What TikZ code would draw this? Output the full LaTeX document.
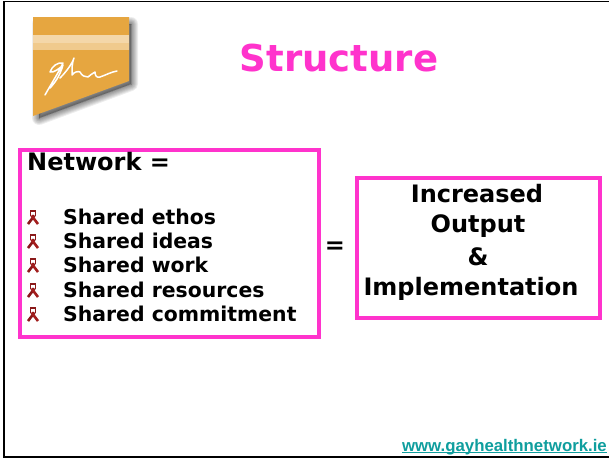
\documentclass[tikz,border=0pt]{standalone}
\usepackage{fontspec}
\setmainfont{DejaVu Sans}
\newfontfamily\urlfont{Liberation Sans}
\begin{document}
\begin{tikzpicture}[x=1pt,y=-1pt,
    boxpink/.style={draw=pink2,line width=3.4pt},
    itemtext/.style={anchor=west,font=\bfseries\fontsize{20.4}{22}\selectfont,inner sep=0pt},
    bigtext/.style={font=\bfseries\fontsize{24}{26}\selectfont,inner sep=0pt}]
    %colores
    \definecolor{pink2}{HTML}{FF33CC}
    \definecolor{gold}{HTML}{E6A640}
    \definecolor{teal2}{HTML}{0F9E9E}
    \definecolor{ribbon}{HTML}{A31E1E}

    \useasboundingbox (0,0) rectangle (609,459);
    \fill[white] (0,0) rectangle (609,459);

    % Marco
    \draw[black,line width=1.8pt] (609,1.5) -- (4,1.5) -- (4,457) -- (609,457);

    % Logo, sombra
    \foreach \s in {14,12,10,8,6,4,2,0}
    \draw[black,draw opacity=0.07,line join=round,line width=\s*1pt]
        (39,24) -- (131,24) -- (131,84) -- (39,118) -- cycle;
    \fill[black,opacity=0.3] (39,24) -- (131,24) -- (131,84) -- (39,118) -- cycle;
    \fill[gold] (33,17) -- (129,17) -- (129,81) -- (33,116) -- cycle;
    \fill[gold!60!white] (33,35) rectangle (129,50);
    \fill[gold!45!white] (33,35) rectangle (129,43);
    % Firma
    \draw[white,line width=1.5pt,line cap=round,line join=round] (45,95) .. controls (50,86) and (60,70) .. (63,63)
        .. controls (58,62) and (52,66) .. (50,72) .. controls (54,73) and (60,68) .. (63,65)
        .. controls (60,76) and (54,84) .. (50,88);
    \draw[white,line width=1.5pt,line cap=round,line join=round] (60,78) .. controls (66,72) and (72,64) .. (74,58)
        .. controls (72,62) and (72,70) .. (72,75) .. controls (74,72) and (78,71) .. (80,72)
        .. controls (82,76) and (85,77) .. (88,77) .. controls (90,76) and (92,73) .. (95,72)
        .. controls (95,76) and (97,78) .. (100,77) .. controls (106,75) and (111,72) .. (117,71);

    % Titulo
    \node[text=pink2,font=\bfseries\fontsize{37}{40}\selectfont,inner sep=0pt] (title) at (339,58) {Structure};

    % Cajas
    \draw[boxpink] (20,150) rectangle (319,337);
    \draw[boxpink] (357,178) rectangle (600,318);

    % Texto izquierda
    \node[anchor=west,bigtext] (network) at (27,162) {Network =};
    \foreach \y/\itemname/\itemlabel in {217/ethos/Shared ethos,241/ideas/Shared ideas,265/work/Shared work,290/resources/Shared resources,314/commitment/Shared commitment}{
        \node[itemtext] (\itemname) at (63,\y) {\itemlabel};
        % Lazo
        \begin{scope}[shift={(33,\y)}]
            \draw[ribbon!85!black,line width=2.6pt] (-5,7) -- (1.5,-1.5);
            \draw[ribbon,line width=2.6pt] (5,7) -- (-1.5,-1.5);
            \draw[ribbon!85!black,line width=1.2pt] (-2.5,-1) -- (-2.5,-6) -- (2.5,-6) -- (2.5,-1);
        \end{scope}
    }
    \node[bigtext] (equals) at (335,248) {=};

    % Texto derecha
    \foreach \x/\y/\outname/\outlabel in {477/194/increased/Increased,478/226/output/Output,478/257/amp/\&,471/289/implementation/Implementation}
    \node[bigtext] (\outname) at (\x,\y) {\outlabel};

    % Pie
    \node[anchor=east,inner sep=0pt,text=teal2,font=\urlfont\bfseries\fontsize{16.8}{18}\selectfont] (url) at (607,446) {\underbar{www.gayhealthnetwork.ie}};
\end{tikzpicture}
\end{document}
